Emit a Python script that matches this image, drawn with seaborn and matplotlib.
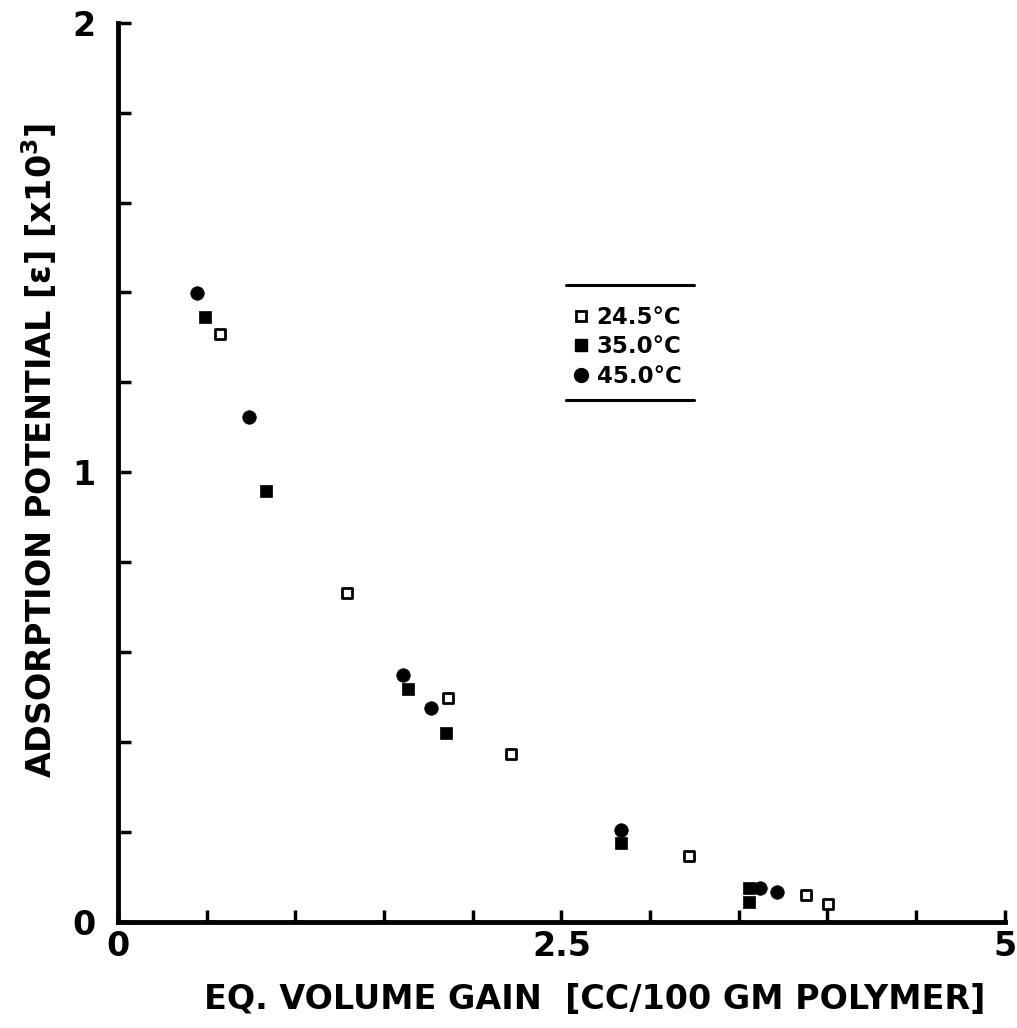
import matplotlib
matplotlib.use("Agg")
import matplotlib.pyplot as plt
import seaborn as sns
import pandas as pd
from matplotlib.lines import Line2D

# Data
x_245 = [0.575, 1.291, 1.860, 2.215, 3.219, 3.878, 4.002]
y_245 = [1.308, 0.732, 0.498, 0.374, 0.147, 0.060, 0.040]

x_350 = [0.490, 0.834, 1.635, 1.849, 2.835, 3.557, 3.557]
y_350 = [1.346, 0.959, 0.518, 0.420, 0.175, 0.076, 0.044]

x_450 = [0.445, 0.738, 1.607, 1.764, 2.835, 3.619, 3.715]
y_450 = [1.399, 1.123, 0.550, 0.476, 0.205, 0.076, 0.067]

labels = ["24.5°C", "35.0°C", "45.0°C"]
x_ticklabels = ["0", "2.5", "5"]
y_ticklabels = ["0", "1", "2"]

sns.set_theme(style="white")
plt.rcParams['font.family'] = ['DejaVu Sans']
plt.rcParams['font.weight'] = 'bold'
plt.rcParams['text.color'] = 'black'
plt.rcParams['axes.labelcolor'] = 'black'
plt.rcParams['xtick.color'] = 'black'
plt.rcParams['ytick.color'] = 'black'

fig = plt.figure(figsize=(10.17, 10.28), dpi=100)
ax = fig.add_axes([0.116, 0.103, 0.872, 0.875])

df245 = pd.DataFrame({"x": x_245, "y": y_245})
df350 = pd.DataFrame({"x": x_350, "y": y_350})
df450 = pd.DataFrame({"x": x_450, "y": y_450})

sns.scatterplot(data=df245, x="x", y="y", marker="s", s=45, facecolor="white",
                edgecolor="black", linewidth=2.0, ax=ax, zorder=3)
sns.scatterplot(data=df350, x="x", y="y", marker="s", s=70, color="black",
                edgecolor="black", linewidth=0.5, ax=ax, zorder=3)
sns.scatterplot(data=df450, x="x", y="y", marker="o", s=95, color="black",
                edgecolor="black", linewidth=0.5, ax=ax, zorder=3)

ax.set_xlim(0, 5)
ax.set_ylim(0, 2)
ax.set_xticks([0, 2.5, 5])
ax.set_xticklabels(x_ticklabels)
ax.set_yticks([0, 1, 2])
ax.set_yticklabels(y_ticklabels)
ax.set_xticks([0.5, 1.0, 1.5, 2.0, 3.0, 3.5, 4.0, 4.5], minor=True)
ax.set_yticks([0.2, 0.4, 0.6, 0.8, 1.2, 1.4, 1.6, 1.8], minor=True)

ax.tick_params(axis="both", which="both", direction="in", length=9, width=2.5,
               color="black", labelcolor="black", labelsize=24)
ax.tick_params(axis="y", which="both", left=True, right=False, pad=16)
ax.tick_params(axis="x", which="both", bottom=True, top=False, pad=6)
for lab in ax.get_xticklabels() + ax.get_yticklabels():
    lab.set_fontweight("bold")

for s in ["top", "right"]:
    ax.spines[s].set_visible(False)
for s in ["left", "bottom"]:
    ax.spines[s].set_linewidth(3.5)
    ax.spines[s].set_color("black")

ax.set_xlabel("EQ. VOLUME GAIN  [CC/100 GM POLYMER]", fontsize=24,
              fontweight="bold", color="black")
ax.set_ylabel("ADSORPTION POTENTIAL [ε] [x10$^3$]", fontsize=24,
              fontweight="bold", color="black")
ax.xaxis.set_label_coords(0.537, -0.068)
ax.yaxis.set_label_coords(-0.067, 0.525)

handles = [
    Line2D([], [], marker="s", linestyle="none", markersize=7,
           markerfacecolor="white", markeredgecolor="black", markeredgewidth=2),
    Line2D([], [], marker="s", linestyle="none", markersize=8.5,
           markerfacecolor="black", markeredgecolor="black"),
    Line2D([], [], marker="o", linestyle="none", markersize=10,
           markerfacecolor="black", markeredgecolor="black"),
]
leg = ax.legend(handles, labels, frameon=False, loc="upper left",
                bbox_to_anchor=(0.514, 0.685), fontsize=16.5, handlelength=0.6,
                handletextpad=0.4, labelspacing=0.28, borderaxespad=0,
                borderpad=0)
for t in leg.get_texts():
    t.set_fontweight("bold")
    t.set_color("black")

# legend rules above and below
ax.plot([0.505, 0.65], [0.7086, 0.7086], transform=ax.transAxes, color="black",
        linewidth=2.2, clip_on=False)
ax.plot([0.505, 0.65], [0.5806, 0.5806], transform=ax.transAxes, color="black",
        linewidth=2.2, clip_on=False)

fig.savefig("out.png", dpi=100)
